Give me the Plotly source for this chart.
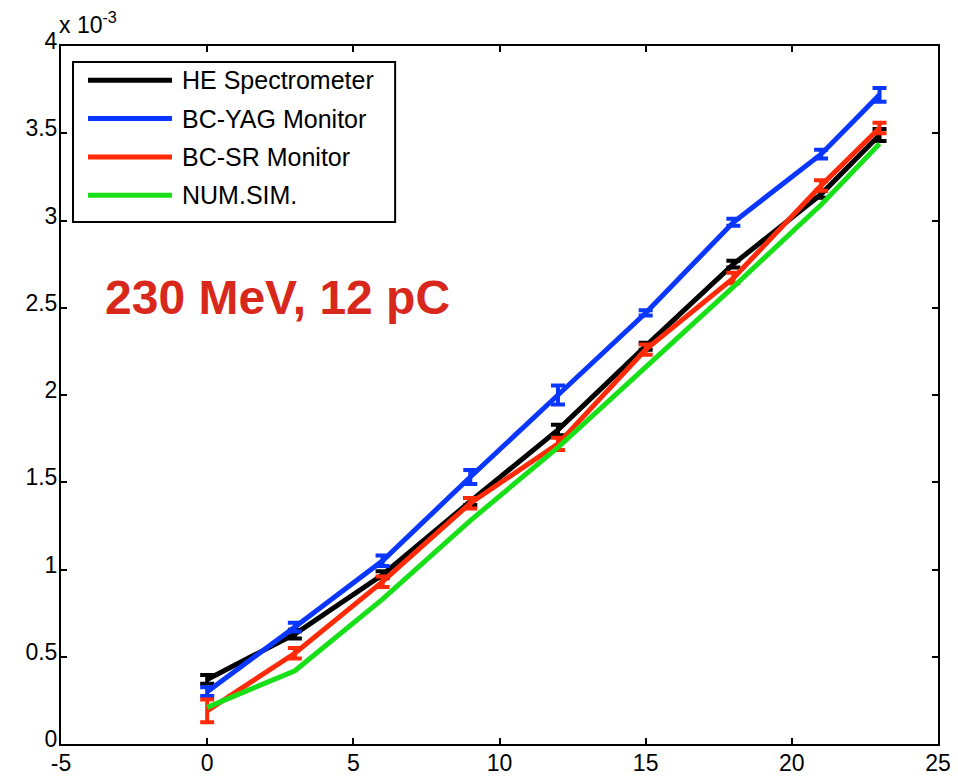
import plotly.graph_objects as go

x = [0, 3, 6, 9, 12, 15, 18, 21, 23]

he_spec = [0.37, 0.63, 0.97, 1.39, 1.80, 2.28, 2.75, 3.15, 3.49]
he_err = [0.025, 0.025, 0.02, 0.02, 0.03, 0.02, 0.02, 0.02, 0.035]

bc_yag = [0.30, 0.67, 1.05, 1.53, 2.00, 2.47, 2.99, 3.38, 3.72]
bc_yag_err = [0.025, 0.025, 0.03, 0.04, 0.055, 0.015, 0.02, 0.025, 0.04]

bc_sr = [0.19, 0.52, 0.93, 1.38, 1.72, 2.26, 2.67, 3.20, 3.53]
bc_sr_err = [0.065, 0.03, 0.03, 0.03, 0.035, 0.03, 0.03, 0.03, 0.03]

num_sim = [0.21, 0.42, 0.83, 1.28, 1.70, 2.16, 2.62, 3.09, 3.44]

x_tick_vals = [-5, 0, 5, 10, 15, 20, 25]
x_tick_text = ["-5", "0", "5", "10", "15", "20", "25"]
y_tick_vals = [0, 0.5, 1, 1.5, 2, 2.5, 3, 3.5, 4]
y_tick_text = ["0", "0.5", "1", "1.5", "2", "2.5", "3", "3.5", "4"]

series = [
    ("HE Spectrometer", he_spec, he_err, "#000000"),
    ("BC-YAG Monitor", bc_yag, bc_yag_err, "#0a37ff"),
    ("BC-SR Monitor", bc_sr, bc_sr_err, "#ff2a08"),
    ("NUM.SIM.", num_sim, None, "#18e018"),
]

font_family = "Liberation Sans, Arial, Helvetica, sans-serif"

fig = go.Figure()
for name, ys, err, color in series:
    kw = {}
    if err is not None:
        kw["error_y"] = dict(type="data", array=err, visible=True,
                             color=color, thickness=4, width=7)
    fig.add_trace(go.Scatter(x=x, y=ys, mode="lines", name=name,
                             line=dict(color=color, width=5), **kw))

# annotation text
fig.add_annotation(x=-3.57, y=2.56, xref="x", yref="y", xanchor="left",
                   yanchor="middle", text="<b>230 MeV, 12 pC</b>",
                   showarrow=False,
                   font=dict(family=font_family, size=48, color="#d8281c"))

# exponent label
fig.add_annotation(x=0, y=1, xref="paper", yref="paper", xanchor="left",
                   yanchor="bottom", xshift=-4, yshift=6,
                   text="x 10<sup>-3</sup>", showarrow=False,
                   font=dict(family=font_family, size=23, color="#000000"))

# legend box drawn manually (long line samples like the original)
leg_x0, leg_x1 = 0.0137, 0.381
leg_y0, leg_y1 = 0.748, 0.977
fig.add_shape(type="rect", xref="paper", yref="paper",
              x0=leg_x0, x1=leg_x1, y0=leg_y0, y1=leg_y1,
              line=dict(color="#000000", width=2), fillcolor="white",
              layer="above")
row_y = [0.951, 0.896, 0.841, 0.786]
for (name, _, _, color), ry in zip(series, row_y):
    fig.add_shape(type="line", xref="paper", yref="paper",
                  x0=0.0308, x1=0.1266, y0=ry, y1=ry,
                  line=dict(color=color, width=5), layer="above")
    fig.add_annotation(x=0.1357, y=ry, xref="paper", yref="paper",
                       xanchor="left", yanchor="middle", text=name,
                       showarrow=False,
                       font=dict(family=font_family, size=25, color="#000000"))

axis_common = dict(showgrid=False, zeroline=False, showline=True,
                   linecolor="#000000", linewidth=2, mirror="ticks",
                   ticks="inside", ticklen=6, tickwidth=1.5, tickcolor="#000000",
                   automargin=False,
                   tickfont=dict(family=font_family, size=23, color="#000000"))

# the page body adds an 8px offset, so the figure is sized to fit the window
fig.update_layout(
    width=950, height=771,
    margin=dict(l=53, r=20, t=38, b=35),
    paper_bgcolor="white", plot_bgcolor="white",
    xaxis=dict(range=[-5, 25], tickvals=x_tick_vals, ticktext=x_tick_text,
               ticklabelstandoff=-3, **axis_common),
    yaxis=dict(range=[0, 4], tickvals=y_tick_vals, ticktext=y_tick_text,
               ticklabelstandoff=-3, ticklabelshift=-5, **axis_common),
    showlegend=False,
)

fig.write_html("out.html")
